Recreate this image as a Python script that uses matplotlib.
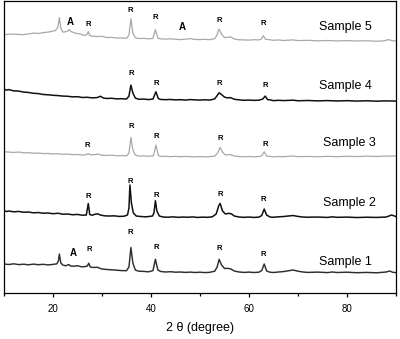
import matplotlib
matplotlib.use("Agg")
import matplotlib.pyplot as plt
from matplotlib.ticker import MultipleLocator

plt.rcParams['font.family'] = ['Liberation Sans', 'DejaVu Sans']

# XRD traces: (2 theta, intensity) read per sample, intensity in arbitrary units
sample1 = [(10, 19), (11, 18.5), (12, 19.2), (13, 18.4), (14, 18.8), (15, 18.2), (16, 18.9), (17, 18.3),
           (18, 18.7), (19, 18.1), (20, 18.6), (20.8, 19.2), (21.1, 22), (21.3, 29), (21.6, 20), (22, 18),
           (22.6, 17.2), (23.2, 18.5), (23.6, 17), (24.3, 16.8), (25, 17.3), (25.8, 16.2), (26.5, 16.4),
           (27.0, 17), (27.3, 19.8), (27.6, 16), (28.3, 15.5), (29, 15.8), (30, 14), (31, 13.5), (32, 13.2),
           (33, 12.8), (34, 12.4), (35, 12.3), (35.5, 16), (35.9, 35.5), (36.3, 20), (36.8, 13), (37.5, 11.8),
           (38.5, 11.6), (39.5, 11.2), (40.4, 12.4), (40.9, 23.7), (41.4, 13), (42, 11.5), (43, 11), (44, 11.3),
           (45, 10.8), (46, 11), (47, 10.6), (48, 10.9), (49, 10.5), (50, 10.8), (51, 10.4), (52, 10.7),
           (53, 11.8), (53.5, 16), (53.9, 23.7), (54.4, 18), (55, 14.5), (55.6, 14.7), (56.2, 14.2), (57, 12),
           (58, 11), (59, 10.6), (60, 10.9), (61, 10.5), (62, 10.8), (62.6, 12.5), (63.1, 19), (63.6, 12),
           (64.3, 10.8), (65, 10.5), (66, 11), (67, 11.4), (68, 12.2), (69, 13), (70, 11.8), (71, 11),
           (72, 10.6), (74, 10.9), (76, 10.4), (77, 11), (78, 10.5), (80, 10.8), (82, 10.3), (84, 10.6),
           (86, 10.2), (88, 11), (88.7, 12), (89.3, 10.8), (90, 10.3)]

sample2 = [(10, 17.5), (10.5, 16.5), (11, 17), (12, 16.2), (13, 16.6), (14, 15.8), (15, 16), (16, 15.2),
           (17, 15.5), (18, 14.8), (19, 15), (20, 14.3), (21, 14.8), (22, 13.8), (23, 14), (24, 13.3),
           (25, 13.6), (26, 12.8), (26.8, 13), (27.2, 24.5), (27.5, 13.5), (28, 12.8), (28.6, 13.8),
           (29.1, 14.2), (29.7, 13), (30.5, 12.2), (31.5, 12), (32.5, 12.2), (33.5, 11.6), (34.5, 11.8),
           (35.2, 13), (35.5, 20), (35.7, 43), (36.0, 25), (36.4, 15), (37, 12), (38, 11.5), (39, 11.2),
           (40.3, 12), (40.6, 15), (40.9, 27.3), (41.2, 17), (41.7, 12), (42.5, 11), (43.5, 10.8), (44.5, 11.2),
           (45.5, 10.7), (46.5, 11), (47.5, 10.8), (48.5, 11.1), (49.5, 10.6), (50.5, 10.9), (51.5, 10.7),
           (52.5, 11.2), (53.3, 14), (53.8, 22), (54.1, 24.7), (54.6, 17), (55.2, 14), (55.8, 14.7),
           (56.4, 14.2), (57, 12), (58, 11), (59, 10.7), (60, 11), (61, 10.6), (62, 10.9), (62.6, 12.5),
           (63.1, 19), (63.6, 13), (64.3, 11), (65, 10.8), (66, 11.2), (67, 11.5), (68, 12), (69, 12.5),
           (70, 11.6), (71, 11), (72, 10.8), (74, 11), (76, 10.6), (77, 11.2), (78, 10.7), (80, 10.9),
           (82, 10.5), (84, 10.8), (86, 10.6), (88, 11), (89.1, 13), (90, 11.5)]

sample3 = [(10, 16.3), (11, 16), (12, 15.6), (13, 16), (14, 15.2), (15, 15.4), (16, 14.8), (17, 15),
           (18, 14.5), (19, 14.6), (20, 14.1), (21, 14.3), (22, 13.8), (23, 13.9), (24, 13.4), (25, 13.6),
           (26, 13), (26.8, 13.4), (27.2, 14.5), (27.6, 13.2), (28.5, 13.4), (29.2, 14), (30, 12.8), (31, 12.6),
           (32, 12.9), (33, 12.3), (34, 12.5), (35, 12.2), (35.5, 15), (35.9, 30.7), (36.3, 18), (36.8, 13),
           (37.5, 12), (38.5, 12.2), (39.5, 11.8), (40.5, 12.3), (41.0, 23), (41.5, 12.5), (42, 11.6),
           (43, 11.8), (44, 11.4), (45, 11.7), (46, 11.3), (47, 11.6), (48, 11.4), (49, 11.2), (50, 11.5),
           (51, 11.2), (52, 11.4), (53, 12), (53.6, 15), (54.1, 20.7), (54.6, 16), (55.2, 13), (55.8, 13.5),
           (56.4, 13.2), (57, 12), (58, 11.5), (59, 11.3), (60, 11.6), (61, 11.2), (62, 11.5), (62.6, 12.2),
           (63.1, 16.3), (63.6, 12), (64.5, 11.5), (65, 11.2), (66, 11.6), (67, 11.3), (68, 11.7), (69, 12),
           (70, 11.4), (72, 11.6), (74, 11.3), (76, 11.7), (78, 11.4), (80, 11.8), (82, 11.5), (84, 11.9),
           (86, 11.6), (88, 12), (90, 12)]

sample4 = [(10, 24), (10.5, 23), (11, 23.5), (12, 22.2), (13, 22), (14, 21), (15, 20.6), (16, 19.8),
           (17, 19.5), (18, 18.6), (19, 18.3), (20, 17.8), (21, 17.5), (22, 17), (23, 16.8), (24, 16.2),
           (25, 16.4), (26, 15.6), (27, 15.8), (28, 15.2), (29, 15.5), (29.7, 16.8), (30.3, 15), (31, 14.6),
           (32, 14.8), (33, 14.2), (34, 14.4), (35, 14), (35.5, 17), (35.9, 28), (36.3, 20), (36.8, 15),
           (37.5, 13.8), (38.5, 14), (39.5, 13.5), (40.4, 14), (41.0, 21.3), (41.5, 14.5), (42, 13.6),
           (43, 13.4), (44, 13.6), (45, 13.2), (46, 13.4), (47, 13), (48, 13.5), (49, 13.2), (50, 13),
           (51, 13.3), (52, 13), (53, 14.2), (53.5, 17.5), (53.9, 20.3), (54.4, 18.5), (55, 16), (55.6, 15.2),
           (56.2, 15.5), (57, 13.8), (58, 13.2), (59, 12.8), (60, 13), (61, 12.7), (62, 12.9), (62.8, 14),
           (63.3, 17), (63.8, 13.5), (64.5, 13), (65, 12.4), (66, 12.8), (67, 12.5), (68, 12.7), (69, 12.9),
           (70, 12.3), (72, 12.6), (74, 12.2), (76, 12.5), (78, 12.1), (80, 12.4), (82, 12), (84, 12.3),
           (86, 11.9), (88, 12.2), (90, 12)]

sample5 = [(10, 18.5), (11, 18.8), (12, 19), (13, 18.6), (14, 18.5), (15, 19.2), (16, 20), (17, 19.6),
           (18, 20.5), (19, 21), (19.8, 21.8), (20.5, 22.5), (21.0, 26), (21.3, 35.5), (21.6, 25), (22.0, 21),
           (22.5, 21.3), (23.0, 22), (23.3, 23.5), (23.7, 21.5), (24.5, 20), (25.5, 19.2), (26.5, 17.5),
           (26.9, 18.5), (27.2, 21.5), (27.5, 17.5), (28, 17), (29, 16.5), (30, 16.8), (31, 15.5), (32, 15.8),
           (33, 15), (34, 15.2), (35, 14.8), (35.5, 18), (35.9, 34.5), (36.3, 20), (36.8, 15.5), (37.5, 14.5),
           (38.5, 14.8), (39.5, 14.2), (40.4, 14.8), (40.9, 23.5), (41.4, 15), (42, 14.2), (43, 14),
           (44, 14.3), (45, 13.8), (46, 13.5), (47, 13.9), (48, 14.5), (49, 13.6), (50, 13.5), (51, 13.8),
           (52, 13.4), (53, 14.5), (53.4, 17.5), (53.9, 24), (54.4, 19), (55, 15.5), (55.6, 15.8),
           (56.2, 16.3), (57, 14), (58, 13.3), (59, 13.2), (60, 13), (61, 13.4), (62, 13.2), (62.5, 14),
           (62.9, 17.3), (63.4, 13.8), (64, 13.5), (65, 12.8), (66, 13.2), (67, 12.6), (68, 12.9), (69, 13.2),
           (70, 12.5), (72, 12.8), (74, 12.3), (76, 12.6), (78, 12.2), (80, 12.5), (82, 12.1), (84, 12.3),
           (86, 11.9), (87.5, 12.2), (88.5, 13.5), (89.2, 12.4), (90, 12)]

# phase marks above peaks: (2 theta, phase, height above the trace's offset)
marks1 = [(24.1, 'A', 29.7), (27.3, 'R', 33.7), (35.7, 'R', 50.7), (41.0, 'R', 35.7), (54.0, 'R', 34.7), (62.9, 'R', 29)]
marks2 = [(27.2, 'R', 31.3), (35.7, 'R', 47), (41.0, 'R', 33), (54.1, 'R', 34), (62.9, 'R', 28.7)]
marks3 = [(26.9, 'R', 23), (35.9, 'R', 41.3), (41.0, 'R', 31.3), (54.1, 'R', 29.7), (63.3, 'R', 24)]
marks4 = [(35.9, 'R', 39.7), (41.0, 'R', 29.7), (53.9, 'R', 29.7), (63.3, 'R', 27.3)]
marks5 = [(23.5, 'A', 30.7), (27.1, 'R', 29), (35.7, 'R', 43), (40.8, 'R', 35.7), (46.3, 'A', 26.3),
          (53.9, 'R', 33), (62.9, 'R', 29.7)]

names = ['Sample 1', 'Sample 2', 'Sample 3', 'Sample 4', 'Sample 5']
traces = [sample1, sample2, sample3, sample4, sample5]
marks = [marks1, marks2, marks3, marks4, marks5]

offsets = [10, 65, 125, 180, 240]
colors = ['#2e2e2e', '#111111', '#a8a8a8', '#111111', '#a8a8a8']
widths = [1.05, 1.1, 0.9, 1.1, 0.9]
name_pos = [(79.6, 21.3), (80.4, 25.3), (80.4, 24.7), (79.6, 27.3), (79.6, 26.3)]

fig = plt.figure(figsize=(4.0, 3.39), dpi=100)
ax = fig.add_axes([0.01, 0.1357, 0.98, 0.861])

for i in range(len(traces)):
  tt = [p[0] for p in traces[i]]
  yy = [p[1] + offsets[i] for p in traces[i]]
  ax.plot(tt, yy, color=colors[i], lw=widths[i])
  for x, phase, h in marks[i]:
    if phase == 'A':
      ax.text(x, offsets[i] + h, phase, fontsize=7, fontweight='bold', ha='center', va='center')
    else:
      ax.text(x, offsets[i] + h, phase, fontsize=5.5, fontweight='bold', ha='center', va='center')
  ax.text(name_pos[i][0], offsets[i] + name_pos[i][1], names[i], fontsize=9, ha='center', va='center')

ax.set_xlim(10, 90)
ax.set_ylim(0, 292)
ax.set_yticks([])
ax.xaxis.set_major_locator(MultipleLocator(20))
ax.xaxis.set_minor_locator(MultipleLocator(10))
ax.tick_params(axis='x', which='major', direction='out', length=3, width=0.9, labelsize=7, pad=5)
ax.tick_params(axis='x', which='minor', direction='out', length=2, width=0.9)
for s in ax.spines.values():
  s.set_linewidth(0.9)
ax.set_xlabel('2 θ (degree)', fontsize=9, labelpad=6)

fig.savefig('out.png', dpi=100)
